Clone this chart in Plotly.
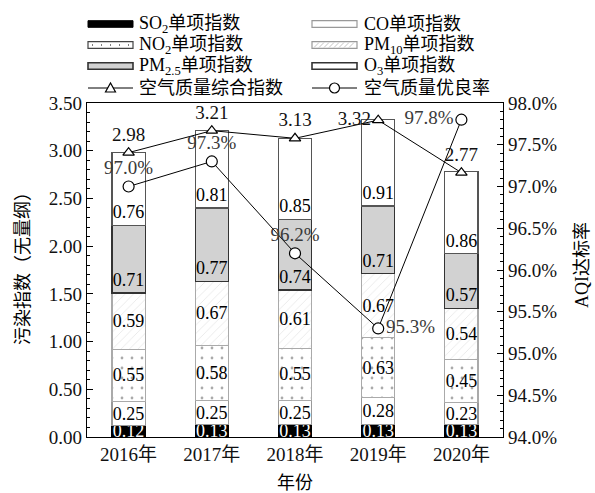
import plotly.graph_objects as go

# ---- data ----
years = ["2016年", "2017年", "2018年", "2019年", "2020年"]
so2 = [0.12, 0.13, 0.13, 0.13, 0.13]
co = [0.25, 0.25, 0.25, 0.28, 0.23]
no2 = [0.55, 0.58, 0.55, 0.63, 0.45]
pm10 = [0.59, 0.67, 0.61, 0.67, 0.54]
pm25 = [0.71, 0.77, 0.74, 0.71, 0.57]
o3 = [0.76, 0.81, 0.85, 0.91, 0.86]
aqi_index = [2.98, 3.21, 3.13, 3.32, 2.77]
good_rate = [97.0, 97.3, 96.2, 95.3, 97.8]

FONT = "Liberation Serif, Noto Sans CJK SC, serif"
W, H = 595, 493
L, R, T, B = 87, 503, 103, 437


def px(x):
    return (x - L) / (R - L)


def py(y):
    return (B - y) / (B - T)


fig = go.Figure()

# (values, marker style, label colour, label anchor inside the segment)
bar_specs = [
    (so2, dict(color="black", line=dict(color="black", width=1)), "white", "middle"),
    (co, dict(color="white", line=dict(color="#999999", width=1.2)), "black", "middle"),
    (no2, dict(color="white", line=dict(color="#aaaaaa", width=1.2),
               pattern=dict(shape=".", fgcolor="#555555", bgcolor="white",
                            size=10, solidity=0.06)), "black", "middle"),
    (pm10, dict(color="white", line=dict(color="#aaaaaa", width=1.2),
                pattern=dict(shape="/", fgcolor="#c8c8c8", bgcolor="white",
                             size=6, solidity=0.12)), "black", "middle"),
    (pm25, dict(color="#d2d2d2", line=dict(color="#333333", width=1.3)), "black", "start"),
    (o3, dict(color="white", line=dict(color="#555555", width=1.3)), "black", "start"),
]

for vals, marker, tcolor, anchor in bar_specs:
    fig.add_trace(go.Bar(
        x=years, y=vals, width=0.4, marker=marker,
        texttemplate="%{y:.2f}", textposition="inside",
        insidetextanchor=anchor, textangle=0, constraintext="none",
        textfont=dict(family=FONT, size=18, color=tcolor),
        cliponaxis=True, showlegend=False, hoverinfo="skip",
    ))

fig.add_trace(go.Scatter(
    x=years, y=aqi_index, mode="lines+markers+text",
    line=dict(color="black", width=1),
    marker=dict(symbol="triangle-up", size=10, color="white",
                line=dict(color="black", width=1.2)),
    texttemplate="%{y:.2f}",
    textposition=["top center", "top center", "top center", "middle left", "top center"],
    textfont=dict(family=FONT, size=19, color="#111111"),
    showlegend=False, cliponaxis=False,
))

fig.add_trace(go.Scatter(
    x=years, y=good_rate, yaxis="y2", mode="lines+markers+text",
    line=dict(color="black", width=1),
    marker=dict(symbol="circle", size=11, color="white",
                line=dict(color="black", width=1.2)),
    texttemplate="%{y:.1f}%",
    textposition=["top center", "top center", "top center", "middle right", "middle left"],
    textfont=dict(family=FONT, size=19, color="#3a3a3a"),
    showlegend=False, cliponaxis=False,
))

# ---- custom legend ----
shapes = []
annotations = []
col_x = [(88, 133, 137), (312, 357, 362)]
rows_y = [24, 45, 66, 88]
sw_h = 3.3

legend_items = [
    (0, 0, "SO<sub>2</sub>单项指数", dict(fillcolor="black", line=dict(color="black", width=1))),
    (1, 0, "CO单项指数", dict(fillcolor="white", line=dict(color="#999999", width=1.2))),
    (0, 1, "NO<sub>2</sub>单项指数", dict(fillcolor="white", line=dict(color="#444444", width=1.2))),
    (1, 1, "PM<sub>10</sub>单项指数", dict(fillcolor="white", line=dict(color="#999999", width=1.2))),
    (0, 2, "PM<sub>2.5</sub>单项指数", dict(fillcolor="#d2d2d2", line=dict(color="#333333", width=1.6))),
    (1, 2, "O<sub>3</sub>单项指数", dict(fillcolor="white", line=dict(color="#333333", width=1.6))),
]

for c, r, label, style in legend_items:
    x0, x1, xt = col_x[c]
    yc = rows_y[r]
    shapes.append(dict(type="rect", xref="paper", yref="paper",
                       x0=px(x0), x1=px(x1), y0=py(yc + sw_h), y1=py(yc - sw_h),
                       layer="above", **style))
    annotations.append(dict(text=label, xref="paper", yref="paper",
                            x=px(xt), y=py(yc), xanchor="left", yanchor="middle",
                            showarrow=False, font=dict(family=FONT, size=18, color="black")))

# dots in the NO2 swatch
shapes.append(dict(type="line", xref="paper", yref="paper",
                   x0=px(92), x1=px(131), y0=py(rows_y[1]), y1=py(rows_y[1]),
                   line=dict(color="#555555", width=1.3, dash="1px,8px"), layer="above"))
# hatching in the PM10 swatch
for hx in range(314, 352, 5):
    shapes.append(dict(type="line", xref="paper", yref="paper",
                       x0=px(hx), x1=px(hx + 5), y0=py(rows_y[1] + sw_h - 0.8),
                       y1=py(rows_y[1] - sw_h + 0.8),
                       line=dict(color="#c4c4c4", width=1), layer="above"))

# line + marker legend entries
line_entries = [
    (0, "空气质量综合指数", "tri"),
    (1, "空气质量优良率", "circ"),
]
for c, label, mk in line_entries:
    x0, x1, xt = col_x[c]
    yc = rows_y[3]
    xm = (x0 + x1) / 2
    shapes.append(dict(type="line", xref="paper", yref="paper",
                       x0=px(x0), x1=px(x1), y0=py(yc), y1=py(yc),
                       line=dict(color="black", width=1), layer="above"))
    if mk == "tri":
        path = "M {},{} L {},{} L {},{} Z".format(
            px(xm - 5), py(yc + 4), px(xm + 5), py(yc + 4), px(xm), py(yc - 5))
        shapes.append(dict(type="path", xref="paper", yref="paper", path=path,
                           fillcolor="white", line=dict(color="black", width=1.2),
                           layer="above"))
    else:
        shapes.append(dict(type="circle", xref="paper", yref="paper",
                           x0=px(xm - 5), x1=px(xm + 5), y0=py(yc + 5), y1=py(yc - 5),
                           fillcolor="white", line=dict(color="black", width=1.2),
                           layer="above"))
    annotations.append(dict(text=label, xref="paper", yref="paper",
                            x=px(xt), y=py(yc), xanchor="left", yanchor="middle",
                            showarrow=False, font=dict(family=FONT, size=18, color="black")))

# axis titles
annotations.append(dict(text="污染指数（无量纲）", xref="paper", yref="paper",
                        x=px(23), y=py(264), textangle=-90, showarrow=False,
                        xanchor="center", yanchor="middle",
                        font=dict(family=FONT, size=18, color="black")))
annotations.append(dict(text="AQI达标率", xref="paper", yref="paper",
                        x=px(582), y=py(265), textangle=-90, showarrow=False,
                        xanchor="center", yanchor="middle",
                        font=dict(family=FONT, size=18, color="black")))
annotations.append(dict(text="年份", xref="paper", yref="paper",
                        x=px(295), y=py(483), showarrow=False,
                        xanchor="center", yanchor="middle",
                        font=dict(family=FONT, size=18, color="black")))

tick_font = dict(family=FONT, size=19, color="#111111")

fig.update_layout(
    width=W, height=H,
    margin=dict(l=L, r=W - R, t=T, b=H - B, pad=0),
    barmode="stack", bargap=0.6,
    plot_bgcolor="white", paper_bgcolor="white",
    showlegend=False,
    uniformtext=dict(minsize=18, mode="show"),
    shapes=shapes, annotations=annotations,
    xaxis=dict(showline=True, linecolor="black", linewidth=1.2, mirror=True,
               ticks="", tickfont=tick_font, showgrid=False),
    yaxis=dict(range=[0, 3.5], dtick=0.5, tickformat=".2f", showline=True,
               linecolor="black", linewidth=1.2, mirror=True, ticks="inside",
               ticklen=6, tickcolor="black", showgrid=False, zeroline=False,
               tickfont=tick_font,
               minor=dict(dtick=0.1, ticks="inside", ticklen=3, tickcolor="black")),
    yaxis2=dict(range=[94, 98], dtick=0.5, tickformat=".1f", ticksuffix="%",
                overlaying="y", side="right", showline=True, linecolor="black",
                linewidth=1.2, ticks="inside", ticklen=6, tickcolor="black",
                showgrid=False, zeroline=False, tickfont=tick_font,
                minor=dict(dtick=0.1, ticks="inside", ticklen=3, tickcolor="black")),
)

fig.write_html("out.html")
